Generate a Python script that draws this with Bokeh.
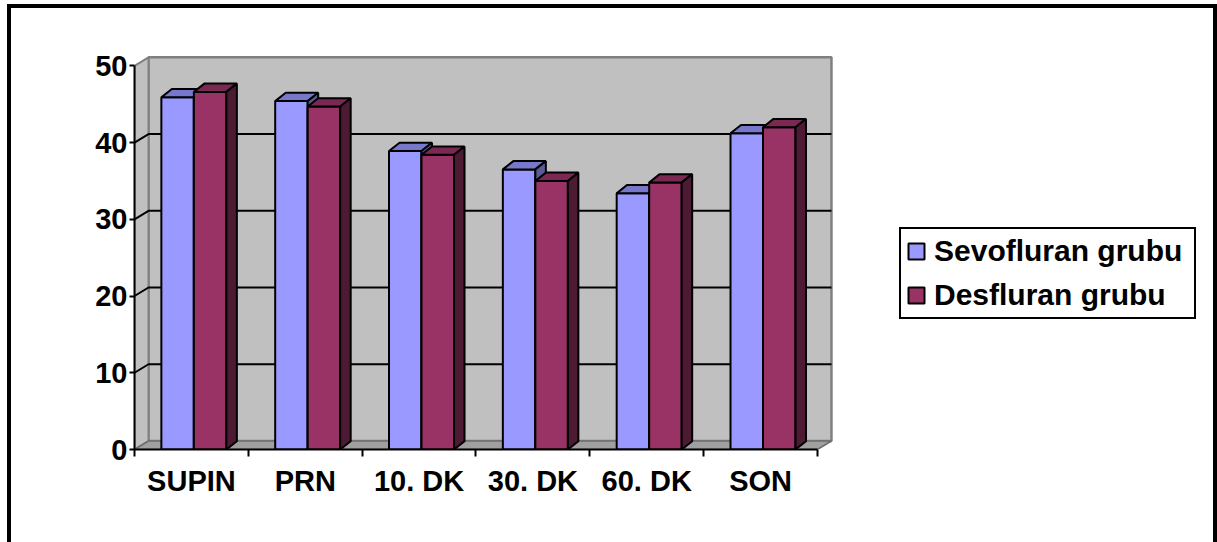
from bokeh.plotting import figure
from bokeh.models import (FixedTicker, Legend, LegendItem, Range1d,
                          ColumnDataSource)
from bokeh.embed import file_html
from bokeh.resources import INLINE

# ---- data -------------------------------------------------------------
categories = ["SUPIN", "PRN", "10. DK", "30. DK", "60. DK", "SON"]
sevofluran = [45.9, 45.4, 38.9, 36.5, 33.4, 41.2]
desfluran = [46.6, 44.7, 38.4, 35.0, 34.8, 42.0]
series_names = ["Sevofluran grubu", "Desfluran grubu"]
y_ticks = [0, 10, 20, 30, 40, 50]
y_max = 50

# ---- geometry (pixels) -------------------------------------------------
BORDER = 4               # chart box border
OFF_X, OFF_Y = 7, 4      # chart box position in the page
W, H = 1202, 534         # figure size
CW, CH = W + 2 * BORDER, H + BORDER      # drawing area incl. the border
ORG_X, ORG_Y = OFF_X + BORDER, OFF_Y + BORDER
FRAME_L, FRAME_T = 134 - ORG_X, 49 - ORG_Y
FRAME_W, FRAME_H = 1201 - 134, 400
CAT_PX = 113.83          # pixels per category
VAL_PX = 7.674           # pixels per value unit

x_start = -0.5
x_end = x_start + FRAME_W / CAT_PX
y_end = FRAME_H / VAL_PX

# depth offsets of the 3-D box and of the columns, in data units
WALL_DX, WALL_DY = 14 / CAT_PX, 8.5 / VAL_PX
BAR_DX, BAR_DY = 10.5 / CAT_PX, 8.3 / VAL_PX
BAR_W = 0.2855
BAR_START = -0.264       # left edge of first column relative to category centre

FONT = "Liberation Sans"

p = figure(width=W, height=H, x_range=Range1d(x_start, x_end),
           y_range=Range1d(0, y_end), output_backend="svg",
           toolbar_location=None,
           min_border_left=FRAME_L, min_border_top=FRAME_T,
           min_border_right=CW - FRAME_L - FRAME_W,
           min_border_bottom=CH - FRAME_T - FRAME_H)
p.margin = (OFF_Y, 0, 0, OFF_X)
p.styles = {"box-sizing": "content-box",
            "border-left": f"{BORDER}px solid black",
            "border-top": f"{BORDER}px solid black",
            "border-right": f"{BORDER}px solid black"}
p.outline_line_color = None
p.grid.visible = False
p.background_fill_color = "white"
p.border_fill_color = "white"

n = len(categories)
left_edge = x_start
right_edge = x_start + n

# ---- walls and floor ---------------------------------------------------
p.quad(left=left_edge + WALL_DX, right=right_edge + WALL_DX,
       bottom=WALL_DY, top=y_max + WALL_DY,
       fill_color="#C0C0C0", line_color="#808080", line_width=2.5)
p.patch([left_edge, left_edge + WALL_DX, left_edge + WALL_DX, left_edge],
        [0, WALL_DY, y_max + WALL_DY, y_max],
        fill_color="#C0C0C0", line_color="#808080", line_width=2)
p.patch([left_edge, right_edge, right_edge + WALL_DX, left_edge + WALL_DX],
        [0, 0, WALL_DY, WALL_DY],
        fill_color="#A0A0A0", line_color="#6E6E6E", line_width=1.5)

grid_vals = [v for v in y_ticks if 0 < v < y_max]
p.multi_line(xs=[[left_edge, left_edge + WALL_DX, right_edge + WALL_DX] for _ in grid_vals],
             ys=[[v, v + WALL_DY, v + WALL_DY] for v in grid_vals],
             line_color="black", line_width=2)

# ---- 3-D columns -------------------------------------------------------
colors = [("#9999FF", "#7777CC", "#5B5B99"),
          ("#993366", "#7A2952", "#4C1A33")]
front_renderers = []
for s, values in enumerate([sevofluran, desfluran]):
    lefts = [i + BAR_START + s * BAR_W for i in range(n)]
    rights = [x + BAR_W for x in lefts]
    front, top, side = colors[s]
    src = ColumnDataSource(dict(left=lefts, right=rights, top=values,
                                bottom=[0] * n))
    r = p.quad(left="left", right="right", bottom="bottom", top="top",
               source=src, fill_color=front, line_color="black", line_width=2)
    front_renderers.append(r)
    p.patches(xs=[[a, b, b + BAR_DX, a + BAR_DX] for a, b in zip(lefts, rights)],
              ys=[[h, h, h + BAR_DY, h + BAR_DY] for h in values],
              fill_color=top, line_color="black", line_width=2)
    p.patches(xs=[[b, b + BAR_DX, b + BAR_DX, b] for b in rights],
              ys=[[0, BAR_DY, h + BAR_DY, h] for h in values],
              fill_color=side, line_color="black", line_width=2)

# ---- axes --------------------------------------------------------------
xa = p.xaxis[0]
xa.ticker = FixedTicker(ticks=list(range(n)),
                        minor_ticks=[i - 0.5 for i in range(n + 1)])
xa.major_label_overrides = {i: c for i, c in enumerate(categories)}
xa.bounds = (left_edge, right_edge)
xa.axis_line_color = "black"
xa.axis_line_width = 2
xa.major_tick_in = 0
xa.major_tick_out = 0
xa.minor_tick_in = 0
xa.minor_tick_out = 7
xa.minor_tick_line_color = "black"
xa.minor_tick_line_width = 2
xa.major_label_standoff = 8
xa.major_label_text_font = FONT
xa.major_label_text_font_style = "bold"
xa.major_label_text_font_size = "29px"
xa.major_label_text_color = "black"

ya = p.yaxis[0]
ya.ticker = FixedTicker(ticks=y_ticks, minor_ticks=[])
ya.bounds = (0, y_max)
ya.axis_line_color = "black"
ya.axis_line_width = 2
ya.major_tick_in = 0
ya.major_tick_out = 5
ya.major_tick_line_color = "black"
ya.major_tick_line_width = 2
ya.major_label_standoff = 2
ya.major_label_text_font = FONT
ya.major_label_text_font_style = "bold"
ya.major_label_text_font_size = "29px"
ya.major_label_text_color = "black"

# ---- legend ------------------------------------------------------------
legend = Legend(items=[LegendItem(label=name, renderers=[r])
                       for name, r in zip(series_names, front_renderers)],
                location=(899 - 134, 449 - 319))
legend.border_line_color = "black"
legend.border_line_width = 2
legend.border_line_alpha = 1
legend.background_fill_color = "white"
legend.background_fill_alpha = 1
legend.label_text_font = FONT
legend.label_text_font_style = "bold"
legend.label_text_font_size = "30px"
legend.label_text_color = "black"
legend.glyph_width = 20
legend.glyph_height = 20
legend.label_standoff = 8
legend.label_height = 34
legend.label_width = 255
legend.padding = 5
legend.spacing = 10
legend.margin = 0
p.add_layout(legend)

open("out.html", "w").write(file_html(p, INLINE))
